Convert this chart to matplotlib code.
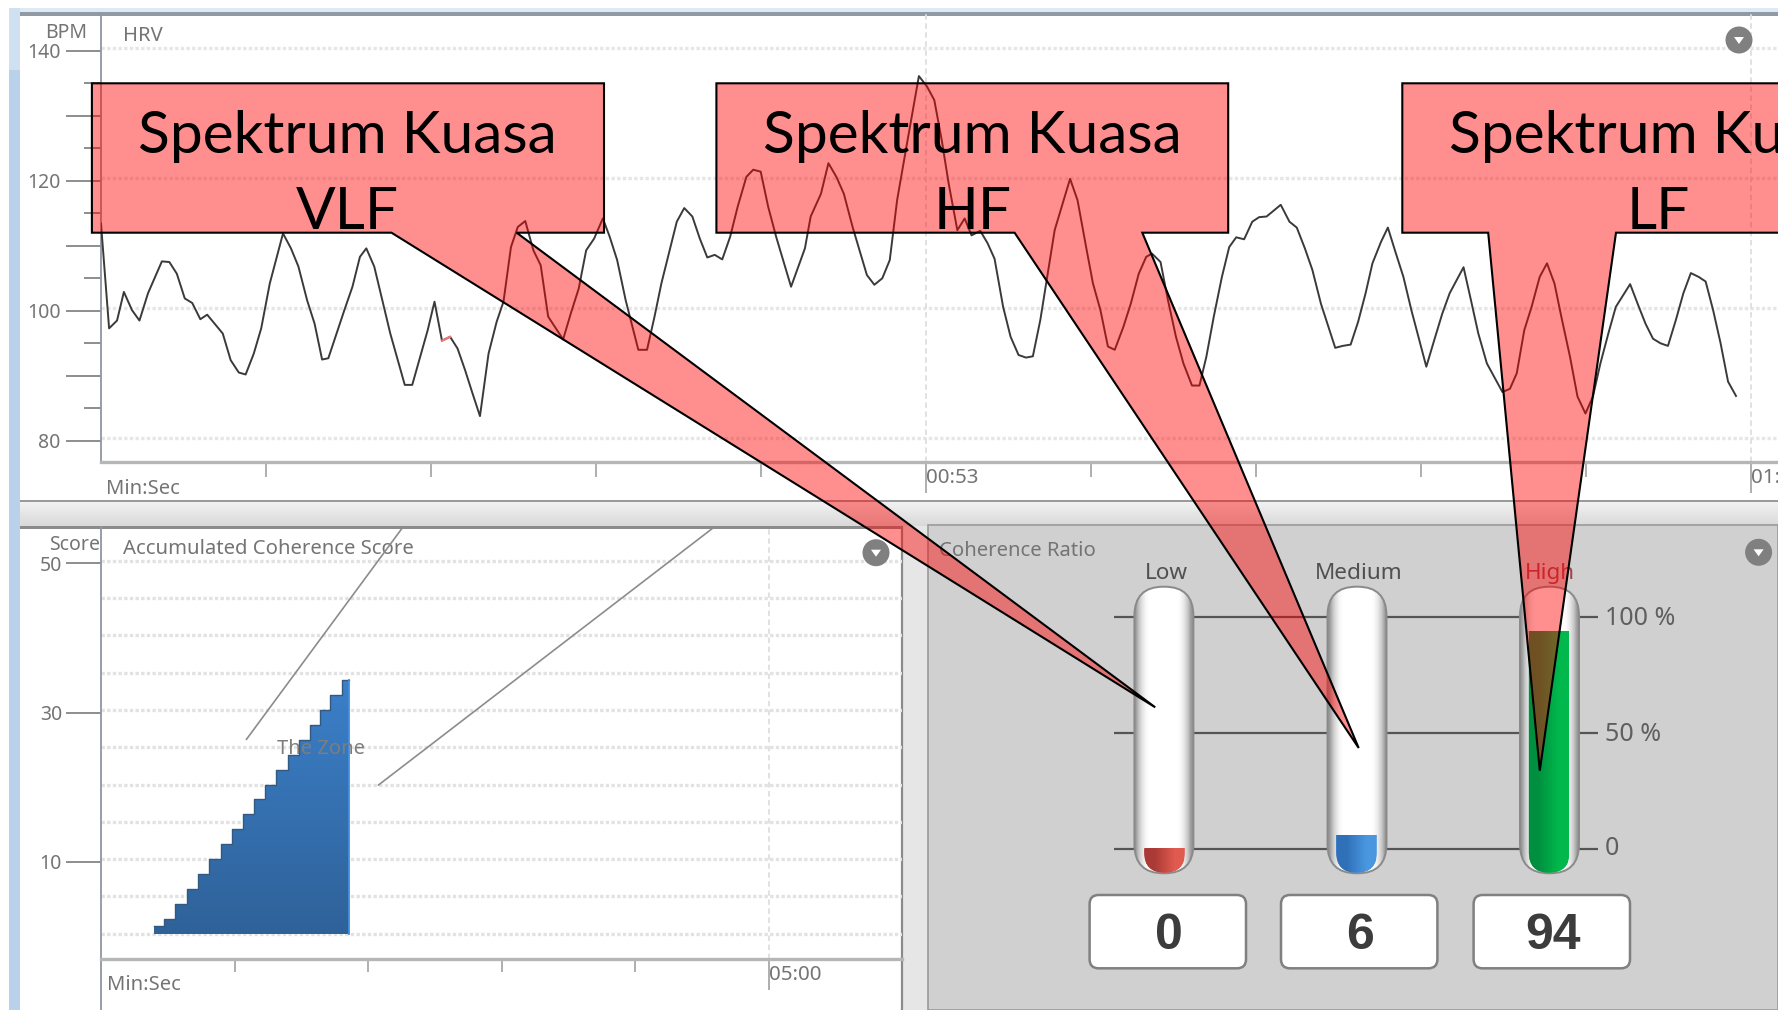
import numpy as np
import matplotlib
matplotlib.use("Agg")
import matplotlib.pyplot as plt
from matplotlib.patches import FancyBboxPatch, Polygon, Rectangle, Ellipse
from matplotlib.transforms import offset_copy

plt.rcParams['font.family'] = ['Noto Sans', 'DejaVu Sans']

# HRV trace, seconds / beats per minute
hrv_seconds = [0.0, .52, 1.03, 1.47, 1.99, 2.47, 3.02, 3.91, 4.39, 4.87, 5.38, 5.86, 6.38, 6.82, 7.82, 8.33, 8.85,
               9.29, 9.81, 10.29, 10.84, 11.69, 12.2, 12.68, 13.24, 13.72, 14.2, 14.6, 15.63, 16.15, 16.63, 17.04,
               17.55, 18.07, 18.58, 19.51, 19.99, 20.5, 20.98, 21.42, 21.9, 22.42, 22.9, 23.38, 23.86, 24.34, 24.89,
               25.41, 25.85, 26.33, 26.77, 27.25, 27.77, 28.24, 28.72, 29.68, 30.2, 30.68, 31.16, 31.67, 32.23, 32.67,
               33.15, 33.7, 34.51, 35.07, 35.55, 35.99, 36.47, 36.98, 37.46, 37.98, 38.46, 38.94, 39.42, 39.9, 40.41,
               40.89, 41.45, 41.89, 42.37, 42.85, 43.36, 44.32, 45.21, 45.58, 46.24, 46.72, 47.23, 47.71, 48.27,
               49.19, 49.67, 50.18, 50.66, 51.13, 51.69, 52.53, 53.05, 53.52, 54.0, 54.44, 55.0, 55.47, 55.91, 56.47,
               56.94, 57.39, 57.94, 58.42, 58.93, 59.41, 59.85, 60.33, 60.77, 61.25, 62.24, 62.72, 63.27, 63.71,
               64.19, 64.67, 65.11, 65.66, 66.14, 66.65, 67.13, 67.5, 68.05, 68.53, 69.04, 69.52, 70.07, 70.55, 70.99,
               71.47, 71.99, 72.46, 72.91, 73.42, 73.94, 74.38, 74.86, 75.77, 76.33, 76.8, 77.32, 77.8, 78.35, 79.27,
               79.75, 80.26, 80.74, 81.22, 81.66, 82.21, 82.65, 83.13, 83.65, 84.16, 85.12, 85.63, 86.15, 86.62,
               87.51, 87.99, 88.46, 89.01, 90.01, 90.49, 90.93, 91.41, 91.88, 92.4, 92.87, 93.35, 93.79, 94.35, 94.83,
               95.34, 95.82, 96.3, 96.81, 97.29, 98.21, 98.69, 99.2, 99.68, 100.16, 100.64, 101.15, 101.63, 102.11,
               102.62, 103.06, 103.54, 104.02, 104.5, 105.01]
hrv_bpm = [113.4, 97.3, 98.5, 102.9, 100.1, 98.5, 102.7, 107.6, 107.5, 105.7, 101.9, 101.2, 98.7, 99.4, 96.5, 92.4, 90.5,
           90.2, 93.4, 97.3, 104.2, 111.9, 109.6, 106.8, 101.6, 98.0, 92.5, 92.7, 100.1, 103.7, 108.3, 109.6,
           106.8, 101.6, 96.5, 88.6, 88.6, 92.9, 97.0, 101.4, 95.4, 96.0, 94.2, 90.9, 87.3, 83.8, 93.4,
           98.3, 101.4, 109.8, 112.9, 113.8, 109.3, 107.0, 99.1, 95.6, 99.8, 103.4, 109.3, 111.1, 114.2, 111.4,
           107.8, 101.6, 94.0, 94.0, 99.1, 104.2, 108.8, 113.7, 115.8, 114.5, 111.1, 108.2, 108.6, 107.9, 111.4,
           116.0, 120.6, 121.7, 121.4, 116.0, 111.4, 103.7, 109.6, 114.5, 118.0, 122.7, 120.6, 118.0, 112.9,
           105.5, 104.0, 105.0, 107.8, 117.0, 124.7, 136.1, 134.5, 132.4, 126.2, 119.6, 112.4, 114.2, 111.6, 112.3,
           110.4, 108.0, 100.6, 96.0, 93.2, 92.8, 93.0, 98.6, 105.2, 112.4, 120.3, 117.0, 109.8, 104.2,
           100.1, 94.5, 94.0, 97.5, 101.1, 105.7, 108.3, 108.8, 107.5, 101.6, 96.0, 91.9, 88.5, 88.5, 92.9,
           99.1, 105.2, 109.8, 111.3, 111.0, 113.7, 114.4, 114.5, 116.3, 113.7, 112.8, 109.6, 106.3, 101.1, 94.3,
           94.6, 94.8, 98.3, 102.7, 107.3, 110.6, 112.8, 109.1, 105.2, 100.1, 91.4, 95.5, 99.6, 102.7,
           106.7, 101.6, 96.5, 91.9, 87.5, 88.0, 90.4, 97.0, 100.6, 105.2, 107.3, 104.2, 99.1, 92.9, 86.8,
           84.2, 86.8, 91.9, 96.5, 100.6, 104.1, 101.1, 98.0, 95.7, 95.0, 94.6, 98.6, 102.7, 105.8,
           105.2, 104.5, 100.1, 95.0, 89.1, 86.9]
hrv_red_seconds = [21.9, 22.42]
hrv_red_bpm = [95.4, 96.0]
hrv_major_seconds = [53, 106]
hrv_major_labels = ['00:53', '01:46']
hrv_minor_seconds = [10.6, 21.2, 31.8, 42.4, 63.6, 74.2, 84.8, 95.4]
hrv_grid_bpm = [80, 100, 120, 140]
hrv_long_ticks = [80, 90, 100, 110, 120, 130, 140]
hrv_long_labels = ['80', '', '100', '', '120', '', '140']
hrv_short_ticks = [85, 95, 105, 115, 125, 135]

# accumulated coherence score
score_seconds = [24, 28.5, 33.2, 38.5, 43.7, 48.7, 54, 58.8, 63.8, 68.8, 73.8, 78.8, 83.8, 89, 93.8, 98.3, 103, 108, 111.5]
score_values = [1, 2, 4, 6, 8, 10, 12, 14, 16, 18, 20, 22, 24, 26, 28, 30, 32, 34, 34]
score_ticks = [10, 30, 50]
score_grid = [0, 5, 10, 15, 20, 25, 30, 35, 40, 45, 50]
score_minor_seconds = [60, 120, 180, 240]
score_major_seconds = [300]

# coherence ratio
ratio_labels = ['Low', 'Medium', 'High']
ratio_values = [0, 6, 94]
ratio_ticks = [0, 50, 100]
ratio_tick_labels = ['0', '50 %', '100 %']

W, H = 1778, 1010
GREY_TEXT = '#747474'

fig = plt.figure(figsize=(W / 100, H / 100), dpi=100)


def px_axes(left, top, right, bottom, zorder):
    a = fig.add_axes([left / W, 1 - bottom / H, (right - left) / W, (bottom - top) / H], zorder=zorder)
    a.patch.set_alpha(0)
    return a


def dropdown(a, x, y):
    a.add_patch(Ellipse((x, y), 27, 27, fc='#808080', ec='none', zorder=6))
    a.add_patch(Polygon([(x - 5, y - 3), (x + 5, y - 3), (x, y + 4)], fc='white', ec='none', zorder=7))


# window chrome, in pixel coordinates
root = px_axes(0, 0, W, H, 0)
root.patch.set_alpha(1)
root.axis('off')
root.add_patch(Rectangle((9, 8), 1769, 4, fc='#dfe9f3', ec='none'))
root.add_patch(Rectangle((20, 12), 1758, 4, fc='#8f9aa5', ec='none'))
root.add_patch(Rectangle((9, 8), 11, 62, fc='#cfe0f1', ec='none'))
root.add_patch(Rectangle((9, 70), 11, 940, fc='#b9d1ea', ec='none'))
root.add_patch(Rectangle((20, 500), 1758, 1.6, fc='#9a9a9a', ec='none', zorder=3))
root.imshow(np.linspace(0.95, 0.85, 32).reshape(-1, 1), cmap='gray', vmin=0, vmax=1, extent=(20, W, 526, 501), aspect='auto')
root.add_patch(Rectangle((20, 526), 882, 3, fc='#8b8b8b', ec='none', zorder=3))
root.add_patch(Rectangle((902, 526), 26, 484, fc='#e6e6e6', ec='none'))
root.add_patch(Rectangle((928, 525), 850, 485, fc='#d0d0d0', ec='#9a9a9a', lw=1.2))
root.plot([902, 902], [527, 1010], color='#8b8b8b', lw=1.6)
root.set_xlim(0, W)
root.set_ylim(H, 0)
root.text(87, 33, 'BPM', ha='right', va='center', fontsize=14, color=GREY_TEXT)
root.text(123, 36, 'HRV', ha='left', va='center', fontsize=14.5, color=GREY_TEXT)
root.text(106, 489, 'Min:Sec', ha='left', va='center', fontsize=14.5, color=GREY_TEXT)
root.text(100, 545, 'Score', ha='right', va='center', fontsize=14, color=GREY_TEXT)
root.text(123, 549, 'Accumulated Coherence Score', ha='left', va='center', fontsize=14.6, color=GREY_TEXT)
root.text(107, 985, 'Min:Sec', ha='left', va='center', fontsize=14.5, color=GREY_TEXT)
root.text(939, 551, 'Coherence Ratio', ha='left', va='center', fontsize=14.6, color=GREY_TEXT)

# HRV plot
ax = px_axes(101, 14, W, 462, 2)
ax.set_xlim(0, (W - 101) / 15.57)
ax.set_ylim(76.74, 145.65)
grid_shift = offset_copy(ax.transData, fig=fig, y=2.4, units='dots')
ax.hlines(hrv_grid_bpm, 0, 108, color='#e6e6e6', lw=2.4, linestyles=(0, (1, 0.7)), transform=grid_shift, zorder=1)
ax.vlines(hrv_major_seconds, 76.74, 145.65, color='#dedede', lw=1.3, linestyles=(0, (3, 2)), zorder=1)
ax.plot(hrv_seconds, hrv_bpm, color='#3a3a3a', lw=1.4, zorder=3)
ax.plot(hrv_red_seconds, hrv_red_bpm, color='#f07878', lw=1.6, zorder=4)
for s in ['top', 'right']:
    ax.spines[s].set_visible(False)
ax.spines['left'].set_color('#8f96a0')
ax.spines['left'].set_linewidth(1.3)
ax.spines['bottom'].set_color('#b6b6b6')
ax.spines['bottom'].set_linewidth(2.4)
ax.set_yticks(hrv_long_ticks, hrv_long_labels, fontsize=14, color=GREY_TEXT)
ax.set_yticks(hrv_short_ticks, minor=True)
ax.tick_params(axis='y', which='major', length=25, width=1.2, color='#7a7a7a', pad=4)
ax.tick_params(axis='y', which='minor', length=12.2, width=1.2, color='#7a7a7a')
ax.set_xticks(hrv_major_seconds, ['', ''])
ax.set_xticks(hrv_minor_seconds, minor=True)
ax.tick_params(axis='x', which='major', length=22, width=1.3, color='#a8a8a8')
ax.tick_params(axis='x', which='minor', length=10.6, width=1.3, color='#a8a8a8')
for sec, lab in zip(hrv_major_seconds, hrv_major_labels):
    ax.annotate(lab, xy=(sec, 0), xycoords=ax.get_xaxis_transform(), xytext=(0, -16), textcoords='offset pixels',
                ha='left', va='center', fontsize=14.8, color=GREY_TEXT, annotation_clip=False)

# accumulated score plot
sc = px_axes(101, 527, 902, 959, 2)
sc.set_xlim(0, 359.7)
sc.set_ylim(-3.02, 54.87)
shift = offset_copy(sc.transData, fig=fig, y=2.7, units='dots')
sc.hlines(score_grid, 0, 359.7, color='#e2e2e2', lw=2.4, linestyles=(0, (1, 0.7)), transform=shift, zorder=1)
sc.vlines(score_major_seconds, -3.02, 54.87, color='#dedede', lw=1.3, linestyles=(0, (3, 2)), zorder=1)
steps = sc.fill_between(score_seconds, score_values, 0, step='post', color='#3a78bd', lw=0, transform=shift, zorder=2)
grad = np.linspace(0, 1, 64).reshape(-1, 1)
cmap = matplotlib.colors.LinearSegmentedColormap.from_list('stair', ['#3b7fc9', '#2f6299'])
im = sc.imshow(grad, cmap=cmap, aspect='auto', extent=(score_seconds[0], score_seconds[-1], 0, score_values[-1]),
               transform=shift, zorder=3, interpolation='bilinear')
im.set_clip_path(steps.get_paths()[0], transform=shift)
sc.step(score_seconds, score_values, where='post', color='#34597f', lw=1.0, transform=shift, zorder=4)
sc.plot([score_seconds[-1]] * 2, [0, score_values[-1]], color='#3f8fe0', lw=1.3, transform=shift, zorder=4)
sc.set_xlim(0, 359.7)
sc.set_ylim(-3.02, 54.87)
for s in ['top', 'right']:
    sc.spines[s].set_visible(False)
sc.spines['left'].set_color('#8f96a0')
sc.spines['left'].set_linewidth(1.3)
sc.spines['bottom'].set_color('#b6b6b6')
sc.spines['bottom'].set_linewidth(2.4)
sc.set_yticks(score_ticks, [str(v) for v in score_ticks], fontsize=14, color=GREY_TEXT)
sc.tick_params(axis='y', which='major', length=25, width=1.2, color='#7a7a7a', pad=3)
sc.set_xticks(score_major_seconds, [''])
sc.set_xticks(score_minor_seconds, minor=True)
sc.tick_params(axis='x', which='major', length=22, width=1.3, color='#a8a8a8')
sc.tick_params(axis='x', which='minor', length=9.5, width=1.3, color='#a8a8a8')
sc.annotate('05:00', xy=(300, 0), xycoords=sc.get_xaxis_transform(), xytext=(0, -16), textcoords='offset pixels',
            ha='left', va='center', fontsize=14.8, color=GREY_TEXT, annotation_clip=False)
root.plot([101, 101], [959, 1010], color='#8f96a0', lw=1.3, zorder=5)
sc.text(0.275, 0.487, 'The Zone', transform=sc.transAxes, ha='center', va='center', fontsize=14.5,
        color='#7d7d7d', zorder=6)

# coherence ratio gauges: lines behind the tubes, bars in front of them
tube_left = [1134.4, 1327.5, 1520.0]
inner_left = [1144.3, 1336.3, 1528.9]
box_left = [1089.6, 1281.0, 1473.6]
ruler = px_axes(1114, 580, 1598, 880, 1)
ruler.set_xlim(-0.26, 2.26)
ruler.set_ylim(-13.2, 116)
ruler.hlines(ratio_ticks, -0.26, 2.26, color='#555555', lw=1.6)
ruler.axis('off')
for tick, lab, nudge in zip(ratio_ticks, ratio_tick_labels, [1, -1, -1]):
    ruler.annotate(lab, xy=(2.26, tick), xytext=(7, nudge), textcoords='offset pixels', ha='left', va='center',
                   fontsize=18, color='#5f5f5f', annotation_clip=False)

tubes = px_axes(0, 0, W, H, 1.5)
tubes.axis('off')
shade = np.array([[.6, .78, .9, .97, 1, 1, 1, 1, 1, 1, 1, 1, 1, .97, .9, .78, .6]])
for left in tube_left:
    shape = FancyBboxPatch((left, 586.7), 59, 286.6, boxstyle='round,pad=0,rounding_size=29', fc='none',
                           ec='#8a8a8a', lw=1.4, zorder=3)
    tubes.add_patch(shape)
    body = tubes.imshow(shade, cmap='gray', vmin=0, vmax=1, extent=(left, left + 59, 873.3, 586.7), aspect='auto',
                        interpolation='bilinear', zorder=2)
    body.set_clip_path(shape)
tubes.set_xlim(0, W)
tubes.set_ylim(H, 0)

bars = px_axes(1114, 580, 1598, 880, 2)
bars.set_xlim(-0.26, 2.26)
bars.set_ylim(-13.2, 116)
bars.axis('off')
bar_colors = ['#c9463f', '#3c84cf', '#00a845']
bar_dark = ['#a93a35', '#2f70b8', '#008f3f']
bar_light = ['#e05a50', '#4a97e0', '#00b84c']
for i, val in enumerate(ratio_values):
    inner = FancyBboxPatch((inner_left[i], 600), 40.5, 272.6, boxstyle='round,pad=0,rounding_size=20',
                           transform=tubes.transData, fc='none', ec='none')
    tubes.add_patch(inner)
    bar = bars.bar(i, val + 13.2, bottom=-13.2, width=0.21, color=bar_colors[i], zorder=2)[0]
    bar.set_clip_path(inner)
    cm = matplotlib.colors.LinearSegmentedColormap.from_list('b%d' % i, [bar_dark[i], bar_light[i]])
    sheen = bars.imshow(np.array([[0.0, 1.0]]), cmap=cm, aspect='auto', interpolation='bilinear',
                        extent=(i - 0.105, i + 0.105, -13.2, max(val, 0.2)), zorder=3)
    sheen.set_clip_path(inner)
bars.set_xlim(-0.26, 2.26)
bars.set_ylim(-13.2, 116)
label_colors = ['#505050', '#505050', '#a8404a']
label_x = [1166, 1359, 1550]
for i, lab in enumerate(ratio_labels):
    root.text(label_x[i], 573.5, lab, ha='center', va='center', fontsize=16.2, color=label_colors[i], zorder=4)
    tubes.add_patch(FancyBboxPatch((box_left[i], 895), 156.4, 73.3, boxstyle='round,pad=0,rounding_size=9',
                                   fc='white', ec='#808080', lw=1.8, zorder=3))
    tubes.text(box_left[i] + 79, 936, str(ratio_values[i]), ha='center', va='center', fontsize=36, fontweight='bold',
               family='Liberation Sans', color='#3c3c3c', zorder=4)

# dropdowns, zone lines and red callouts on top of everything
over = px_axes(0, 0, W, H, 10)
over.axis('off')
over.set_xlim(0, W)
over.set_ylim(H, 0)
dropdown(over, 1739, 40)
dropdown(over, 876, 552.7)
dropdown(over, 1758.6, 552.3)
over.plot([246.5, 403], [739.3, 527], color='#8c8c8c', lw=1.2, zorder=1)
over.plot([378.5, 713], [785, 528], color='#8c8c8c', lw=1.2, zorder=1)
over.set_xlim(0, W)
over.set_ylim(H, 0)
box_top, box_bot = 83.3, 232.7
callouts = [
    (91.9, 604, 391.5, 516.6, (1155.2, 707.3), 347, 'VLF'),
    (716.4, 1228.2, 1014.6, 1142.3, (1358.7, 748), 972.8, 'HF'),
    (1402.3, 1914, 1488.2, 1616, (1539.8, 770.7), 1658.6, 'LF'),
]
for left, right, p0, p1, tip, cx, name in callouts:
    pts = [(left, box_top), (right, box_top), (right, box_bot), (p1, box_bot), tip, (p0, box_bot), (left, box_bot)]
    over.add_patch(Polygon(pts, closed=True, fc=(1, 0, 0, .44), ec='black', lw=1.5, joinstyle='miter', zorder=8))
    over.text(cx, 152.7, 'Spektrum Kuasa', ha='center', va='baseline', fontsize=42.2, family='Lato', color='black', zorder=9)
    over.text(cx, 229, name, ha='center', va='baseline', fontsize=42.2, family='Lato', color='black', zorder=9)

fig.savefig('out.png', dpi=100)
